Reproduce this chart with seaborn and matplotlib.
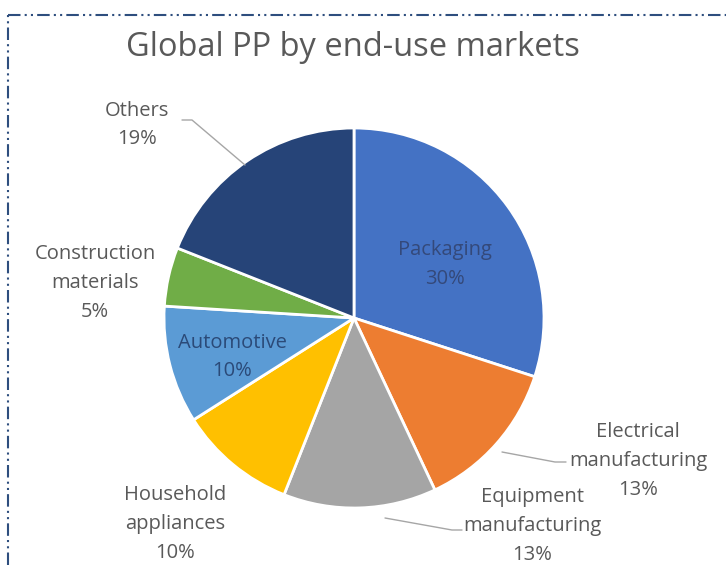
import matplotlib
matplotlib.use("Agg")
import matplotlib.pyplot as plt
import seaborn as sns
import numpy as np
from matplotlib.lines import Line2D

sns.set_theme(style="white")
plt.rcParams['font.family'] = ['Open Sans', 'DejaVu Sans']

categories = ["Packaging", "Electrical\nmanufacturing", "Equipment\nmanufacturing",
              "Household\nappliances", "Automotive", "Construction\nmaterials", "Others"]
shares = [30, 13, 13, 10, 10, 5, 19]
colors = ["#4472C4", "#ED7D31", "#A5A5A5", "#FFC000", "#5B9BD5", "#70AD47", "#264478"]
title = "Global PP by end-use markets"

W, H, R = 726, 565, 190.0
cx, cy = 354, 318

fig = plt.figure(figsize=(W / 100, H / 100), dpi=100)
ax = fig.add_axes([0, 0, 1, 1])
ax.pie(shares, colors=colors, startangle=90, counterclock=False, radius=1,
       wedgeprops=dict(edgecolor="white", linewidth=2))
ax.set_xlim(-cx / R, (W - cx) / R)
ax.set_ylim(-(H - cy) / R, cy / R)
ax.set_aspect("equal")
ax.axis("off")


def d(px, py):
    return (px - cx) / R, (cy - py) / R


# label positions (pixel layout), and leader lines
label_pos = [(445, 265, "inside"), (638, 461, "out"), (532, 526, "out"),
             (175, 524, "out"), (232, 357, "inside"), (95, 283, "out"), (137, 125, "out")]
for name, val, (px, py, kind) in zip(categories, shares, label_pos):
    txt = f"{name}\n{val}%"
    col = "#34497A" if kind == "inside" else "#595959"
    if name == "Automotive":
        col = "#2B4A78"
    x, y = d(px, py)
    ax.text(x, y, txt, ha="center", va="center", fontsize=14.5, color=col,
            linespacing=1.6)

leaders = [
    [(182, 120), (192, 120), (245, 165)],
    [(502, 452), (555, 462), (566, 462)],
    [(385, 518), (452, 530), (462, 530)],
]
for pts in leaders:
    xs, ys = zip(*[d(*p) for p in pts])
    ax.plot(xs, ys, color="#A6A6A6", lw=1)

ax.text(*d(353, 48), title, ha="center", va="center", fontsize=23.5, color="#595959")

# dashed border (top and left)
border = dict(color="#2E4E7E", lw=1.5, linestyle=(0, (6, 2, 1, 2, 1, 2)))
fig.add_artist(Line2D([8 / W, 1], [1 - 15 / H, 1 - 15 / H], transform=fig.transFigure, **border))
fig.add_artist(Line2D([8 / W, 8 / W], [0, 1 - 15 / H], transform=fig.transFigure, **border))

fig.savefig("out.png", dpi=100, facecolor="white")
